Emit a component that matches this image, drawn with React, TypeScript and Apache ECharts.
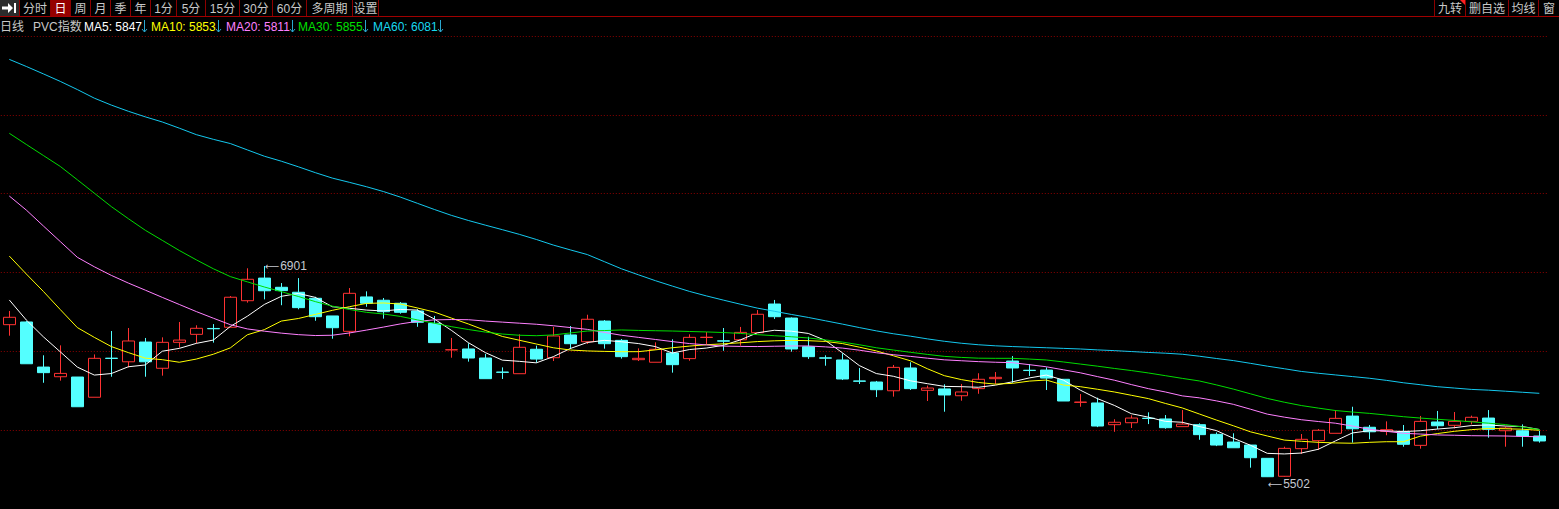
import React, { useEffect, useRef } from "react";
import * as echarts from "echarts";

// ---- data ----
const opens = [6512,6530,6231,6167,6165,6031,6290,6266,6397,6223,6395,6448,6487,6495,6671,6821,6760,6727,6687,6570,6468,6696,6674,6654,6603,6521,6345,6351,6291,6198,6187,6349,6293,6444,6399,6536,6408,6280,6263,6324,6287,6427,6405,6412,6459,6649,6556,6366,6292,6278,6139,6132,6074,6225,6077,6086,6041,6088,6154,6271,6210,6211,6150,5997,5993,5849,5862,5892,5887,5836,5849,5785,5734,5714,5626,5507,5690,5743,5792,5906,5832,5805,5805,5712,5867,5845,5871,5893,5809,5809,5774];
const closes = [6561,6253,6194,6189,5968,6289,6288,6404,6266,6395,6410,6488,6485,6694,6813,6737,6738,6625,6565,6492,6720,6654,6598,6594,6528,6393,6346,6291,6154,6196,6362,6284,6437,6386,6548,6386,6300,6289,6349,6247,6428,6429,6403,6461,6581,6565,6351,6300,6290,6152,6137,6081,6229,6088,6092,6046,6066,6150,6163,6225,6208,6158,6006,5999,5840,5865,5893,5890,5829,5853,5783,5714,5696,5630,5504,5692,5752,5812,5891,5822,5802,5816,5719,5871,5842,5871,5898,5818,5827,5774,5741];
const lows = [6439,6253,6127,6141,5968,6031,6167,6229,6167,6174,6360,6389,6393,6495,6658,6680,6641,6614,6538,6419,6435,6631,6552,6585,6498,6393,6293,6267,6154,6152,6187,6260,6271,6351,6384,6353,6287,6271,6263,6194,6273,6384,6339,6373,6459,6550,6333,6285,6240,6145,6119,6032,6035,6079,6006,5935,6008,6054,6119,6127,6172,6079,6006,5968,5833,5802,5827,5853,5822,5836,5749,5707,5696,5564,5502,5504,5655,5681,5792,5730,5752,5779,5703,5690,5820,5824,5851,5763,5703,5703,5730];
const highs = [6603,6537,6309,6375,6165,6315,6470,6490,6424,6428,6530,6508,6516,6702,6886,6901,6788,6821,6697,6570,6755,6733,6689,6662,6615,6570,6424,6389,6318,6229,6448,6373,6497,6503,6578,6543,6417,6355,6395,6415,6448,6463,6490,6497,6609,6676,6560,6432,6309,6322,6225,6139,6245,6263,6108,6117,6119,6190,6198,6304,6251,6229,6150,6052,6028,5885,5911,5931,5913,5946,5858,5798,5792,5714,5626,5703,5787,5820,5946,5968,5847,5871,5847,5907,5940,5933,5909,5946,5836,5851,5809];

const ma5 = [6676,6543,6432,6332,6231,6178,6188,6233,6245,6336,6355,6388,6410,6500,6568,6646,6700,6719,6693,6631,6621,6609,6603,6613,6609,6550,6475,6393,6327,6277,6269,6259,6300,6354,6394,6408,6399,6387,6367,6324,6347,6357,6375,6411,6458,6475,6469,6454,6408,6326,6241,6188,6170,6140,6121,6103,6101,6097,6111,6133,6159,6178,6145,6078,6022,5977,5922,5899,5871,5865,5837,5810,5759,5713,5659,5655,5661,5686,5741,5794,5809,5808,5803,5809,5820,5829,5843,5847,5840,5837,5817];
const ma10 = [6967,6848,6733,6612,6493,6428,6367,6327,6290,6280,6263,6284,6316,6358,6445,6479,6536,6553,6580,6607,6631,6653,6656,6649,6623,6596,6556,6517,6474,6434,6409,6384,6359,6344,6338,6335,6333,6333,6345,6359,6370,6379,6385,6392,6400,6405,6408,6406,6401,6387,6363,6338,6306,6273,6220,6174,6148,6129,6118,6123,6138,6145,6112,6101,6084,6066,6044,6022,5990,5960,5920,5880,5842,5802,5774,5747,5739,5732,5728,5726,5732,5736,5736,5773,5790,5805,5816,5824,5822,5819,5812];
const ma20 = [7365,7272,7167,7063,6959,6896,6839,6788,6741,6693,6646,6599,6555,6512,6484,6469,6456,6446,6440,6442,6457,6476,6496,6517,6534,6544,6546,6545,6536,6529,6522,6515,6505,6493,6481,6461,6442,6428,6414,6400,6387,6378,6370,6368,6367,6369,6371,6371,6365,6357,6343,6326,6313,6302,6290,6279,6273,6267,6263,6260,6247,6233,6213,6193,6168,6144,6115,6088,6066,6040,6027,6007,5984,5952,5919,5899,5882,5870,5859,5840,5819,5805,5792,5787,5781,5779,5776,5775,5774,5771,5769];
const ma30 = [7781,7707,7634,7561,7473,7384,7295,7215,7138,7071,7004,6942,6883,6831,6796,6762,6731,6699,6665,6635,6613,6594,6583,6567,6544,6522,6499,6480,6463,6450,6442,6439,6444,6457,6470,6473,6477,6474,6472,6470,6467,6464,6460,6454,6446,6439,6432,6424,6411,6397,6379,6359,6344,6329,6315,6302,6295,6290,6289,6289,6284,6278,6265,6251,6237,6222,6208,6192,6174,6156,6139,6113,6085,6054,6023,5998,5976,5959,5943,5933,5924,5913,5902,5893,5885,5877,5868,5859,5850,5834,5817];
const ma60 = [8271,8224,8175,8125,8071,8014,7968,7927,7890,7856,7815,7772,7741,7713,7671,7629,7596,7559,7520,7484,7456,7427,7395,7358,7317,7276,7237,7203,7172,7142,7111,7077,7040,7008,6977,6930,6883,6843,6804,6768,6733,6703,6675,6648,6622,6601,6580,6560,6538,6516,6493,6471,6452,6436,6418,6402,6389,6379,6372,6367,6363,6359,6355,6351,6345,6340,6334,6328,6323,6316,6303,6288,6274,6256,6237,6220,6202,6190,6179,6168,6157,6143,6127,6114,6101,6092,6083,6078,6071,6064,6057];

const days = opens.map((_, i) => `D${i + 1}`);

const leftTabs = ["分时", "日", "周", "月", "季", "年", "1分", "5分", "15分", "30分", "60分", "多周期", "设置"];
const rightTabs = ["九转", "删自选", "均线", "窗"];
const legendTexts = ["日线", "PVC指数", "MA5: 5847", "MA10: 5853", "MA20: 5811", "MA30: 5855", "MA60: 6081"];
const maNames = ["MA5", "MA10", "MA20", "MA30", "MA60"];

// ---- layout / style ----
const W = 1559;
const H = 509;
const FONT = '"Liberation Sans", "Noto Sans CJK SC", sans-serif';
const leftEdges = [19, 50, 70, 90, 110, 130, 150, 176, 205, 239, 272, 306, 352, 378];
const rightEdges = [1434, 1465, 1508, 1538, 1559];
const legendX = [0, 33, 84, 151, 226, 298, 373];
const arrowX = [141, 215, 289, 362, 437];
const legendColors = ["#c8c8c8", "#c8c8c8", "#ffffff", "#ffff00", "#ff80ff", "#00e000", "#18d8f0"];
const maColors = ["#ffffff", "#ffff00", "#ff80ff", "#00dc00", "#14c8ee"];
const UP = "#ff3232";
const DOWN = "#54ffff";
const SEP = "#8c0000";
const ARROW = "#2aa8d0";
const MARK = "#c4c8d0";

function buildGraphics() {
  const g: any[] = [];
  // icon cell
  g.push({ type: "rect", shape: { x: 0, y: 0, width: 19, height: 16 }, style: { fill: "#2c2c2c" } });
  g.push({
    type: "polygon",
    shape: { points: [[2, 6.5], [8, 6.5], [8, 3], [13, 8], [8, 13], [8, 9.5], [2, 9.5]] },
    style: { fill: "#ffffff" },
  });
  g.push({ type: "rect", shape: { x: 14, y: 3, width: 2, height: 10 }, style: { fill: "#ffffff" } });
  // selected tab background
  g.push({ type: "rect", shape: { x: leftEdges[1], y: 0, width: leftEdges[2] - leftEdges[1], height: 16 }, style: { fill: "#960000" } });
  // separators
  [...leftEdges, ...rightEdges.slice(0, 4)].forEach((x) => {
    g.push({ type: "line", shape: { x1: x + 0.5, y1: 0, x2: x + 0.5, y2: 16 }, style: { stroke: SEP, lineWidth: 1 } });
  });
  g.push({ type: "line", shape: { x1: 0, y1: 16.5, x2: W, y2: 16.5 }, style: { stroke: "#a00000", lineWidth: 1 } });
  leftTabs.forEach((t, i) => {
    g.push({
      type: "text",
      x: (leftEdges[i] + leftEdges[i + 1]) / 2 + 0.5,
      y: 8.5,
      style: { text: t, fill: i === 1 ? "#ffffff" : "#c8c8c8", font: `12px ${FONT}`, textAlign: "center", textVerticalAlign: "middle" },
    });
  });
  rightTabs.forEach((t, i) => {
    g.push({
      type: "text",
      x: (rightEdges[i] + rightEdges[i + 1]) / 2 + 0.5,
      y: 8.5,
      style: { text: t, fill: "#c8c8c8", font: `12px ${FONT}`, textAlign: "center", textVerticalAlign: "middle" },
    });
  });
  g.push({ type: "polygon", shape: { points: [[1460, 0], [1465, 0], [1465, 5]] }, style: { fill: "#ff2020" } });
  // legend row
  legendTexts.forEach((t, i) => {
    g.push({
      type: "text",
      x: legendX[i],
      y: 26.5,
      style: { text: t, fill: legendColors[i], font: `12px ${FONT}`, textVerticalAlign: "middle" },
    });
  });
  arrowX.forEach((x) => {
    g.push({ type: "line", shape: { x1: x + 3.5, y1: 20, x2: x + 3.5, y2: 32 }, style: { stroke: ARROW, lineWidth: 1 } });
    g.push({
      type: "polyline",
      shape: { points: [[x + 1, 29], [x + 3.5, 32], [x + 6, 29]] },
      style: { stroke: ARROW, lineWidth: 1, fill: "none" },
    });
  });
  return g;
}

export default function App() {
  const ref = useRef<HTMLDivElement>(null);
  useEffect(() => {
    document.body.style.margin = "0";
    document.body.style.background = "#000";
    if (!ref.current) return;
    const chart = echarts.init(ref.current, undefined, { renderer: "svg" });
    const candleData = opens.map((o, i) => [o, closes[i], lows[i], highs[i]]);
    const maSeries = [ma5, ma10, ma20, ma30, ma60].map((d, i) => ({
      name: maNames[i],
      type: "line",
      data: d,
      showSymbol: false,
      symbol: "none",
      silent: true,
      z: 3,
      lineStyle: { color: maColors[i], width: 1 },
      itemStyle: { color: maColors[i] },
    }));
    chart.setOption({
      animation: false,
      backgroundColor: "#000000",
      grid: { left: 0.8, right: 11.2, top: 36, bottom: 0, containLabel: false },
      xAxis: {
        type: "category",
        data: days,
        boundaryGap: true,
        axisLine: { show: false },
        axisTick: { show: false },
        axisLabel: { show: false },
        splitLine: { show: false },
      },
      yAxis: [
        { type: "value", min: 5290, max: 8426, show: false, splitLine: { show: false } },
        {
          type: "value",
          min: 0,
          max: 6,
          interval: 1,
          axisLine: { show: false },
          axisTick: { show: false },
          axisLabel: { show: false },
          splitLine: { show: true, lineStyle: { color: "#8c0000", width: 1, type: [1, 2] } },
        },
      ],
      series: [
        {
          name: "PVC指数",
          type: "candlestick",
          data: candleData,
          barWidth: 12,
          z: 2,
          itemStyle: {
            color: "#000000",
            color0: DOWN,
            borderColor: UP,
            borderColor0: DOWN,
            borderWidth: 1,
          },
          markPoint: {
            symbol: "rect",
            symbolSize: 1,
            itemStyle: { color: "rgba(0,0,0,0)" },
            label: {
              show: true,
              position: "right",
              distance: 0,
              color: MARK,
              formatter: (p: any) => "{a|⟵}{b|" + p.value + "}",
              rich: {
                a: { color: MARK, fontSize: 10, fontFamily: '"DejaVu Sans", sans-serif' },
                b: { color: MARK, fontSize: 12, fontFamily: '"Liberation Sans", sans-serif', padding: [0, 0, 0, 1] },
              },
            },
            data: [
              { type: "max", valueDim: "highest" },
              { type: "min", valueDim: "lowest", label: { offset: [0, 7] } },
            ],
          },
        },
        ...maSeries,
      ],
      graphic: buildGraphics(),
    });
    return () => chart.dispose();
  }, []);
  return (
    <div
      ref={ref}
      style={{ position: "fixed", left: 0, top: 0, width: W, height: H, background: "#000" }}
    />
  );
}
